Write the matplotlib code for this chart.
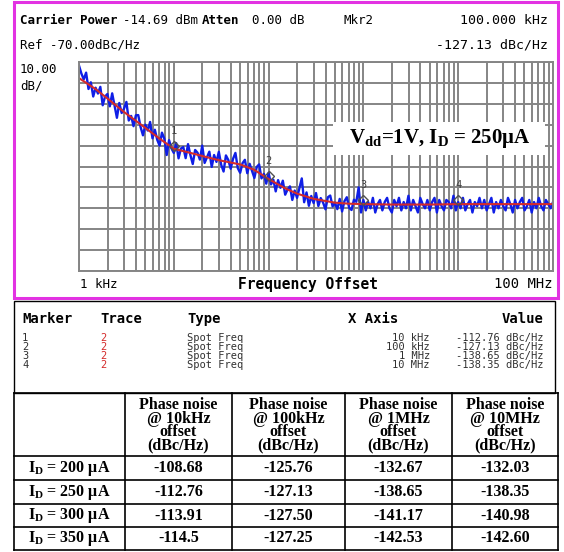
import numpy as np
import matplotlib
matplotlib.use("Agg")
import matplotlib.pyplot as plt
from matplotlib.patches import Rectangle
from matplotlib.ticker import LogLocator, NullFormatter
from matplotlib.transforms import offset_copy

plt.rcParams['mathtext.fontset'] = 'custom'
plt.rcParams['mathtext.rm'] = 'Liberation Serif:bold'
plt.rcParams['mathtext.it'] = 'Liberation Serif:bold:italic'
plt.rcParams['mathtext.bf'] = 'Liberation Serif:bold'

# smoothed trace (red)
red_freq = [1e3, 1.5e3, 2e3, 3e3, 5e3, 7e3, 1e4, 1.5e4, 2e4, 3e4, 5e4, 7e4,
            1e5, 1.5e5, 2e5, 3e5, 5e5, 7e5, 1e6, 2e6, 5e6, 1e7, 2e7, 5e7, 1e8]
red_dbc = [-77.7, -83, -87.5, -94, -101.5, -106.5, -111.5, -113.5, -115, -117,
           -119, -121.5, -126, -130.5, -133, -135.5, -137.3, -137.8, -138,
           -138.2, -138.2, -138, -138, -138, -138]

# raw trace (blue), 40 sweep points per decade, 1 kHz .. 100 MHz
blue_dbc = [
    -71.7, -75.5, -78.3, -75.1, -82.9, -79.7, -86.5, -82.3, -85.1, -81.9,
    -90.7, -86.5, -85.3, -91.2, -85.0, -90.9, -96.7, -89.6, -94.4, -92.3,
    -89.1, -98.0, -95.8, -100.7, -95.5, -95.4, -101.2, -105.1, -100.0, -102.8,
    -98.7, -106.5, -102.4, -107.2, -110.0, -103.8, -106.7, -114.5, -107.4, -111.3,
    -113.5, -108.8, -116.1, -111.4, -110.7, -116.0, -109.3, -114.5, -118.8, -112.1,
    -113.4, -116.7, -110.0, -118.3, -115.6, -112.9, -120.2, -114.5, -117.8, -113.0,
    -119.2, -122.4, -114.7, -116.9, -121.1, -116.3, -113.5, -120.8, -123.0, -118.4,
    -116.8, -123.2, -118.7, -122.1, -125.5, -120.2, -119.0, -125.7, -123.5, -128.2,
    -123.0, -128.6, -126.3, -131.9, -126.5, -130.2, -126.8, -133.5, -131.0, -129.5,
    -136.0, -131.5, -135.0, -130.4, -125.7, -137.1, -132.4, -138.8, -134.1, -137.5,
    -132.7, -138.9, -135.1, -137.3, -140.5, -134.7, -133.9, -139.1, -137.3, -140.4,
    -135.5, -141.5, -136.6, -134.7, -139.8, -140.8, -135.9, -136.9, -130.0, -142.0,
    -136, -141, -137, -140, -135, -142, -138, -136, -141, -137,
    -135, -140, -142, -136, -139, -135, -141, -137, -140, -134,
    -141, -136, -139, -142, -135, -138, -140, -136, -141, -137,
    -135, -142, -136, -139, -141, -136, -137, -140, -134, -141,
    -137, -140, -135, -141, -138, -136, -142, -137, -139, -135,
    -140, -136, -141, -138, -135, -142, -137, -140, -136, -139,
    -141, -135, -138, -142, -136, -140, -137, -135, -141, -139,
    -136, -142, -137, -140, -135, -139, -141, -136, -138, -140,
    -137,
]

marker_freq = [1e4, 1e5, 1e6, 1e7]
marker_dbc = [-112.76, -127.13, -138.65, -138.35]
marker_xlabels = ['10 kHz', '100 kHz', '1 MHz', '10 MHz']

currents = ['200', '250', '300', '350']
offset_labels = ['10kHz', '100kHz', '1MHz', '10MHz']
pn_10k = ['-108.68', '-112.76', '-113.91', '-114.5']
pn_100k = ['-125.76', '-127.13', '-127.50', '-127.25']
pn_1m = ['-132.67', '-138.65', '-141.17', '-142.53']
pn_10m = ['-132.03', '-138.35', '-140.98', '-142.60']

W, H = 564, 552
fig = plt.figure(figsize=(W / 100, H / 100), dpi=100)

# spectrum screen
ax = fig.add_axes([79 / W, 1 - 271 / H, 474 / W, 209 / H])
ax.set_xscale('log')
ax.set_xlim(1e3, 1e8)
ax.set_ylim(-170, -70)
ax.set_yticks(np.arange(-170, -69, 10))
ax.xaxis.set_major_locator(LogLocator(base=10, numticks=10))
ax.xaxis.set_minor_locator(LogLocator(base=10, subs=np.arange(2, 10), numticks=20))
ax.xaxis.set_minor_formatter(NullFormatter())
ax.tick_params(which='both', length=0, labelbottom=False, labelleft=False)
ax.grid(which='both', color='#858585', lw=1.4)
for s in ax.spines.values():
    s.set_color('#858585')
    s.set_linewidth(1.4)

blue_freq = np.logspace(3, 8, len(blue_dbc))
ax.plot(blue_freq, blue_dbc, color='#0f1ee6', lw=1.7)
ax.plot(red_freq, red_dbc, color='#d42a2a', lw=1.5)

mk_trans = offset_copy(ax.transData, fig=fig, y=5, units='dots')
ax.plot(marker_freq, marker_dbc, 'D', ms=5.5, mfc='none', mec='#505050', mew=1,
        transform=mk_trans, zorder=4)
for i, (f, v) in enumerate(zip(marker_freq, marker_dbc)):
    ax.annotate(str(i + 1), (f, v), xytext=(0, 20), textcoords='offset pixels',
                ha='center', va='center', fontsize=7.5, family='DejaVu Sans Mono',
                color='#404040')

# overlay in pixel coordinates for frames, text and tables
ov = fig.add_axes([0, 0, 1, 1], zorder=5)
ov.set_xlim(0, W)
ov.set_ylim(H, 0)
ov.axis('off')

ov.add_patch(Rectangle((14, 2), 544, 296, fill=False, ec='#e232e2', lw=2.2))
ov.add_patch(Rectangle((333, 122), 212, 33, fc='white', ec='none'))
ov.text(440, 139, r'V$_{\rm dd}$=1V, I$_{\rm D}$ = 250μA', ha='center', va='center',
        fontsize=15, family='Liberation Serif', weight='bold')

mono = dict(family='DejaVu Sans Mono', va='center', color='black')
ov.text(20, 21, 'Carrier Power', fontsize=9, weight='bold', **mono)
ov.text(123, 21, '-14.69 dBm', fontsize=9, **mono)
ov.text(202, 21, 'Atten', fontsize=9, weight='bold', **mono)
ov.text(252, 21, '0.00 dB', fontsize=9, **mono)
ov.text(344, 21, 'Mkr2', fontsize=9, **mono)
ov.text(548, 21, '100.000 kHz', fontsize=9.5, ha='right', **mono)
ov.text(20, 45, 'Ref -70.00dBc/Hz', fontsize=9, **mono)
ov.text(548, 45, '-127.13 dBc/Hz', fontsize=9.5, ha='right', **mono)
ov.text(20, 78, '10.00\ndB/', fontsize=9, linespacing=1.35, **mono)
ov.text(80, 284, '1 kHz', fontsize=9, **mono)
ov.text(308, 284, 'Frequency Offset', fontsize=10.5, weight='bold', ha='center', **mono)
ov.text(553, 284, '100 MHz', fontsize=10, ha='right', **mono)

# marker table
ov.add_patch(Rectangle((14, 301), 541, 92, fill=False, ec='black', lw=1))
ov.text(22, 319, 'Marker', fontsize=10, weight='bold', **mono)
ov.text(100, 319, 'Trace', fontsize=10, weight='bold', **mono)
ov.text(187, 319, 'Type', fontsize=10, weight='bold', **mono)
ov.text(348, 319, 'X Axis', fontsize=10, weight='bold', **mono)
ov.text(543, 319, 'Value', fontsize=10, weight='bold', ha='right', **mono)

row = dict(family='DejaVu Sans Mono', va='center', fontsize=7.5, linespacing=0.86)
n = len(marker_dbc)
ov.text(22, 351.5, '\n'.join(str(i + 1) for i in range(n)), color='#303030', **row)
ov.text(100, 351.5, '\n'.join('2' for i in range(n)), color='#d42a2a', **row)
ov.text(187, 351.5, '\n'.join('Spot Freq' for i in range(n)), color='#303030', **row)
ov.text(430, 351.5, '\n'.join(marker_xlabels), ha='right', multialignment='right',
        color='#303030', **row)
ov.text(543, 351.5, '\n'.join(f'{v:.2f} dBc/Hz' for v in marker_dbc), ha='right',
        multialignment='right', color='#303030', **row)

# phase noise table
col_x = [14, 125, 232, 345, 452, 558]
row_y = [393, 456, 480, 504, 527, 550]
for y in row_y:
    ov.plot([col_x[0], col_x[-1]], [y, y], color='black', lw=1.2)
for x in col_x:
    ov.plot([x, x], [row_y[0], row_y[-1]], color='black', lw=1.2)

serif = dict(family='Liberation Serif', weight='bold', fontsize=11.5,
             ha='center', va='center')
for j, off in enumerate(offset_labels):
    cx = (col_x[j + 1] + col_x[j + 2]) / 2
    ov.text(cx, 425.5, '\n'.join(['Phase noise', '@ ' + off, 'offset', '(dBc/Hz)']),
            linespacing=0.78, multialignment='center', **serif)

columns = [pn_10k, pn_100k, pn_1m, pn_10m]
for r, cur in enumerate(currents):
    cy = (row_y[r + 1] + row_y[r + 2]) / 2
    ov.text((col_x[0] + col_x[1]) / 2, cy, r'I$_{\rm D}$ = ' + cur + ' μA', **serif)
    for j, col in enumerate(columns):
        cx = (col_x[j + 1] + col_x[j + 2]) / 2
        ov.text(cx, cy, col[r], **serif)

fig.savefig('out.png', dpi=100)
